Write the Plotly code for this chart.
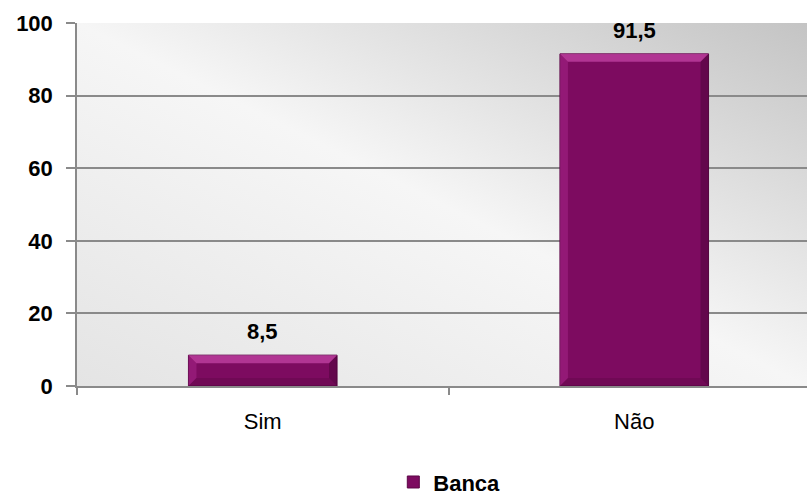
import base64
import plotly.graph_objects as go

# ---- data ----
categories = ["Sim", "Não"]
values = [8.5, 91.5]
series_name = "Banca"
y_ticks = [0, 20, 40, 60, 80, 100]

# ---- style ----
FONT = "Liberation Sans, Arial, sans-serif"
FS = 22
BAR = "#7d0b60"
W, H = 807, 501
ML, MR, MT, MB = 77, 0, 23, 115
X_RANGE = [-0.5, 1.465]
BAR_W = 0.4

plot_w = W - ML - MR
plot_h = H - MT - MB
px_x = (X_RANGE[1] - X_RANGE[0]) / plot_w
px_y = 100.0 / plot_h

svg = (
    '<svg xmlns="http://www.w3.org/2000/svg" width="100" height="100" '
    'viewBox="0 0 100 100" preserveAspectRatio="none">'
    '<defs><linearGradient id="g" x1="0" y1="1" x2="1" y2="0">'
    '<stop offset="0" stop-color="#e4e4e4"/>'
    '<stop offset="0.5" stop-color="#f6f6f6"/>'
    '<stop offset="1" stop-color="#c4c4c4"/>'
    '</linearGradient></defs>'
    '<rect x="0" y="0" width="100" height="100" fill="url(#g)"/></svg>'
)
uri = "data:image/svg+xml;base64," + base64.b64encode(svg.encode()).decode()

fig = go.Figure()
fig.add_trace(go.Bar(
    x=categories, y=values, name=f"<b>{series_name}</b>",
    marker=dict(color=BAR, line=dict(color="#5c0746", width=1)),
    width=BAR_W, showlegend=True,
))

# bevel effect computed from the data values
shapes = []
bev_x = 8 * px_x
bev_y = 8 * px_y
def path(pts):
    return "M" + " L".join(f"{a},{b}" for a, b in pts) + " Z"
for i, v in enumerate(values):
    x0, x1 = i - BAR_W / 2, i + BAR_W / 2
    by = min(bev_y, v / 3)
    bx = bev_x
    shapes.append(dict(type="path", xref="x", yref="y", line_width=0,
                       fillcolor="rgba(220,90,190,0.55)",
                       path=path([(x0, v), (x1, v), (x1 - bx, v - by), (x0 + bx, v - by)])))
    shapes.append(dict(type="path", xref="x", yref="y", line_width=0,
                       fillcolor="rgba(200,60,170,0.30)",
                       path=path([(x0, v), (x0 + bx, v - by), (x0 + bx, by), (x0, 0)])))
    shapes.append(dict(type="path", xref="x", yref="y", line_width=0,
                       fillcolor="rgba(40,0,30,0.30)",
                       path=path([(x1, v), (x1, 0), (x1 - bx, by), (x1 - bx, v - by)])))
    shapes.append(dict(type="path", xref="x", yref="y", line_width=0,
                       fillcolor="rgba(40,0,30,0.15)",
                       path=path([(x0, 0), (x1, 0), (x1 - bx, by), (x0 + bx, by)])))

annotations = []
for c, v in zip(categories, values):
    annotations.append(dict(
        x=c, y=v, xref="x", yref="y", text=f"<b>{v:.1f}</b>".replace(".", ","),
        showarrow=False, yanchor="bottom", yshift=9,
        font=dict(family=FONT, size=FS, color="#000000"),
    ))

fig.update_layout(
    width=W, height=H,
    margin=dict(l=ML, r=MR, t=MT, b=MB, autoexpand=False),
    paper_bgcolor="#ffffff",
    plot_bgcolor="rgba(0,0,0,0)",
    font=dict(family=FONT, size=FS, color="#000000"),
    bargap=0.6,
    shapes=shapes,
    annotations=annotations,
    images=[dict(source=uri, xref="paper", yref="paper", x=0, y=1,
                 sizex=1, sizey=1, sizing="stretch", xanchor="left",
                 yanchor="top", layer="below")],
    legend=dict(orientation="h", x=0.51, xanchor="center", y=-0.265,
                yanchor="middle", font=dict(family=FONT, size=FS, color="#000000"),
                bgcolor="rgba(0,0,0,0)"),
    xaxis=dict(
        type="category", range=X_RANGE, tickson="boundaries", automargin=False,
        ticks="outside", ticklen=7, tickcolor="#8a8a8a", tickwidth=1.5,
        showline=True, linecolor="#8a8a8a", linewidth=1.5,
        showgrid=False, ticklabelstandoff=15,
        tickfont=dict(family=FONT, size=FS, color="#000000"),
    ),
    yaxis=dict(
        range=[0, 100], tickvals=y_ticks, automargin=False,
        ticktext=[f"<b>{t}</b>" for t in y_ticks],
        ticks="outside", ticklen=9, tickcolor="#8a8a8a", tickwidth=1.5,
        showline=True, linecolor="#8a8a8a", linewidth=1.5,
        showgrid=True, gridcolor="#8a8a8a", gridwidth=1.5,
        zeroline=False, ticklabelstandoff=9,
        tickfont=dict(family=FONT, size=FS, color="#000000"),
    ),
)

fig.write_html("out.html")
